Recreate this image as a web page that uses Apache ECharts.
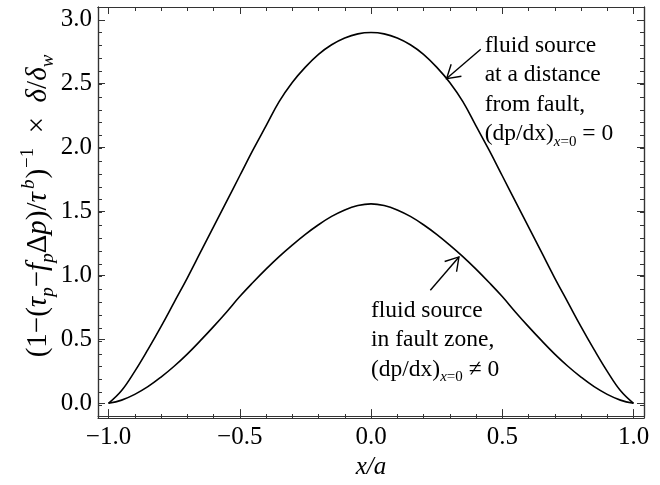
<!DOCTYPE html>
<html><head><meta charset="utf-8">
<script src="https://cdn.jsdelivr.net/npm/echarts@6/dist/echarts.min.js"></script>
<style>html,body{margin:0;padding:0;background:#fff}#c{width:660px;height:485px}</style>
</head><body><div id="c"></div>
<script>
const xValues = [-1.0,-0.95,-0.9,-0.85,-0.8,-0.75,-0.7,-0.65,-0.6,-0.55,-0.5,-0.45,-0.4,-0.35,-0.3,-0.25,-0.2,-0.15,-0.1,-0.05,0.0,
  0.05,0.1,0.15,0.2,0.25,0.3,0.35,0.4,0.45,0.5,0.55,0.6,0.65,0.7,0.75,0.8,0.85,0.9,0.95,1.0];
const upperCurve = [0,0.10,0.25,0.42,0.60,0.79,0.98,1.18,1.38,1.58,1.78,1.98,2.17,2.36,2.51,2.63,2.73,2.805,2.858,2.89,2.90,
  2.89,2.858,2.805,2.73,2.63,2.51,2.36,2.17,1.98,1.78,1.58,1.38,1.18,0.98,0.79,0.60,0.42,0.25,0.10,0];
const lowerCurve = [0,0.025,0.07,0.13,0.205,0.29,0.385,0.49,0.60,0.715,0.835,0.945,1.05,1.148,1.238,1.322,1.397,1.462,1.513,1.547,1.56,
  1.547,1.513,1.462,1.397,1.322,1.238,1.148,1.05,0.945,0.835,0.715,0.60,0.49,0.385,0.29,0.205,0.13,0.07,0.025,0];
const xMajorTicks = [-1.0,-0.5,0.0,0.5,1.0];
const xMinorTicks = [-1.0,-0.9,-0.8,-0.7,-0.6,-0.5,-0.4,-0.3,-0.2,-0.1,0.0,0.1,0.2,0.3,0.4,0.5,0.6,0.7,0.8,0.9,1.0];
const yMajorTicks = [0.0,0.5,1.0,1.5,2.0,2.5,3.0];
const yMinorTicks = [0.0,0.1,0.2,0.3,0.4,0.5,0.6,0.7,0.8,0.9,1.0,1.1,1.2,1.3,1.4,1.5,1.6,1.7,1.8,1.9,2.0,2.1,2.2,2.3,2.4,2.5,2.6,2.7,2.8,2.9,3.0];

const FONT = "'Liberation Serif','DejaVu Serif',serif";
const AX = '#333';
const TICKFS = 25;
const chart = echarts.init(document.getElementById('c'), null, {renderer:'canvas'});
const gridRect = {left:98, right:16, top:7, bottom:67};
const fmt = v => (Math.round(v*10)/10).toFixed(1).replace('-', '\u2212');

function xAx(grid, pos, ticks, len, labels) {
  return {type:'value', gridIndex:grid, position:pos, min:-1.04, max:1.04,
    axisLine:{show:true, onZero:false, lineStyle:{color:AX, width:1.2}},
    axisTick:{show:true, inside:true, length:len, customValues:ticks, lineStyle:{color:AX, width:1}},
    axisLabel:{show:labels, customValues:ticks, formatter:fmt, margin:9, color:'#000', fontFamily:FONT, fontSize:TICKFS},
    splitLine:{show:false}};
}
function yAx(grid, pos, ticks, len, labels) {
  return {type:'value', gridIndex:grid, position:pos, min:-0.1, max:3.1,
    axisLine:{show:true, onZero:false, lineStyle:{color:AX, width:1.2}},
    axisTick:{show:true, inside:true, length:len, customValues:ticks, lineStyle:{color:AX, width:1}},
    axisLabel:{show:labels, customValues:ticks, formatter:fmt, margin:6, color:'#000', fontFamily:FONT, fontSize:TICKFS},
    splitLine:{show:false}};
}

const xa = xAx(0,'bottom',xMajorTicks,7,true);
xa.name = 'x/a'; xa.nameLocation='middle'; xa.nameGap=37;
xa.nameTextStyle = {fontFamily:FONT, fontSize:25, fontStyle:'italic', color:'#000'};

function makeRich(fs, sfs) {
  const lh = Math.round(fs*1.3);
  return {
    n:{fontFamily:FONT, fontSize:fs, color:'#000', lineHeight:lh},
    i:{fontFamily:FONT, fontSize:fs, fontStyle:'italic', color:'#000', lineHeight:lh},
    isub:{fontFamily:FONT, fontSize:sfs, fontStyle:'italic', color:'#000', lineHeight:sfs, verticalAlign:'bottom'},
    nsub:{fontFamily:FONT, fontSize:sfs, color:'#000', lineHeight:sfs, verticalAlign:'bottom'},
    isup:{fontFamily:FONT, fontSize:sfs, fontStyle:'italic', color:'#000', lineHeight:sfs, verticalAlign:'top', padding:[0,1,0,3]},
    nsup:{fontFamily:FONT, fontSize:sfs, color:'#000', lineHeight:sfs, verticalAlign:'top', padding:[0,0,0,1]}
  };
}
const noteRich = makeRich(23.5, 15);
const titleRich = makeRich(29, 19);

const option = {
  animation:false,
  backgroundColor:'#fff',
  grid:[Object.assign({show:false}, gridRect), Object.assign({show:false}, gridRect)],
  xAxis:[xa, xAx(0,'top',xMajorTicks,7,false), xAx(1,'bottom',xMinorTicks,4,false), xAx(1,'top',xMinorTicks,4,false)],
  yAxis:[yAx(0,'left',yMajorTicks,7,true), yAx(0,'right',yMajorTicks,7,false), yAx(1,'left',yMinorTicks,4,false), yAx(1,'right',yMinorTicks,4,false)],
  series:[
    {type:'line', xAxisIndex:0, yAxisIndex:0, data:xValues.map((x,i)=>[x,upperCurve[i]]), showSymbol:false, smooth:0.4,
      lineStyle:{color:'#000', width:1.6}},
    {type:'line', xAxisIndex:0, yAxisIndex:0, data:xValues.map((x,i)=>[x,lowerCurve[i]]), showSymbol:false, smooth:0.4,
      lineStyle:{color:'#000', width:1.6}}
  ]
};
chart.setOption(option);

// annotations (anchored in data coordinates)
const arrows = [
  {tail:[0.418, 2.77], tip:[0.288, 2.54]},
  {tail:[0.226, 0.884], tip:[0.335, 1.145]}
];
const notes = [
  {at:[0.433, 2.80], lines:['fluid source','at a distance','from fault,','{n|(dp/dx)}{isub|x}{nsub|=0}{n| = 0}']},
  {at:[0.0, 0.726], lines:['fluid source','in fault zone,','{n|(dp/dx)}{isub|x}{nsub|=0}{n| \u2260 0}']}
];
const g = [];
arrows.forEach(a => {
  const p0 = chart.convertToPixel({gridIndex:0}, a.tail);
  const p1 = chart.convertToPixel({gridIndex:0}, a.tip);
  const ang = Math.atan2(p0[1]-p1[1], p0[0]-p1[0]);
  const L = 15, h = 0.55;
  g.push({type:'line', shape:{x1:p0[0],y1:p0[1],x2:p1[0],y2:p1[1]}, style:{stroke:'#000', lineWidth:1.4}});
  g.push({type:'polyline', shape:{points:[[p1[0]+L*Math.cos(ang-h), p1[1]+L*Math.sin(ang-h)], p1, [p1[0]+L*Math.cos(ang+h), p1[1]+L*Math.sin(ang+h)]]},
    style:{stroke:'#000', lineWidth:1.4, fill:null}});
});
notes.forEach(nt => {
  const p = chart.convertToPixel({gridIndex:0}, nt.at);
  nt.lines.forEach((ln, k) => {
    const txt = ln.indexOf('{') === 0 ? ln : '{n|' + ln + '}';
    g.push({type:'text', x:p[0], y:p[1] + k*29.5, style:{text:txt, rich:noteRich, align:'left', verticalAlign:'middle'}});
  });
});
g.push({type:'text', x:38, y:206, rotation:Math.PI/2,
  style:{text:'{n|(1\u2212(}{i|\u03c4}{isub|p}{n|\u2212}{i|f}{isub|p}{n|\u0394}{i|p}{n|)/}{i|\u03c4}{isup|b}{n|)}{nsup|\u22121}{n|  \u00d7  }{i|\u03b4}{n|/}{i|\u03b4}{isub|w}',
    rich:titleRich, align:'center', verticalAlign:'middle'}});
chart.setOption({graphic:g});
</script>
</body></html>
